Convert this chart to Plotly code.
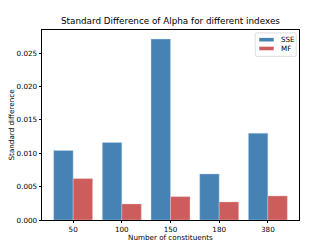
import plotly.graph_objects as go

categories = ["50", "100", "150", "180", "380"]
sse_values = [0.0104, 0.0116, 0.0271, 0.0069, 0.0130]
mf_values = [0.0062, 0.0024, 0.0035, 0.0027, 0.0036]
y_ticks = [0.0, 0.005, 0.010, 0.015, 0.020, 0.025]
y_tick_labels = ["0.000", "0.005", "0.010", "0.015", "0.020", "0.025"]
series_names = ["SSE", "MF"]
series_colors = ["#4682B4", "#CD5C5C"]

idx = list(range(len(categories)))
font = "DejaVu Sans"

W, H = 332, 247
L, R, T, B = 41.5, 33.2, 29.6, 27.2
pw, ph = W - L - R, H - T - B


def px(x):
    return (x - L) / pw


def py(y):
    return (H - B - y) / ph


fig = go.Figure()
fig.add_trace(go.Bar(x=idx, y=sse_values, name="SSE", width=0.4, offset=-0.4,
                     marker=dict(color=series_colors[0], line=dict(color="rgba(200,220,240,0.8)", width=0.5))))
fig.add_trace(go.Bar(x=idx, y=mf_values, name="MF", width=0.4, offset=0.0,
                     marker=dict(color=series_colors[1], line=dict(color="rgba(245,200,200,0.8)", width=0.5))))

ymax = max(sse_values + mf_values) * 1.05

# legend drawn manually (matplotlib style)
lx0, lx1, ly0, ly1 = 255, 296, 32.5, 56
r = 1.5
path = (f"M {px(lx0 + r)} {py(ly0)} L {px(lx1 - r)} {py(ly0)} "
        f"Q {px(lx1)} {py(ly0)} {px(lx1)} {py(ly0 + r)} L {px(lx1)} {py(ly1 - r)} "
        f"Q {px(lx1)} {py(ly1)} {px(lx1 - r)} {py(ly1)} L {px(lx0 + r)} {py(ly1)} "
        f"Q {px(lx0)} {py(ly1)} {px(lx0)} {py(ly1 - r)} L {px(lx0)} {py(ly0 + r)} "
        f"Q {px(lx0)} {py(ly0)} {px(lx0 + r)} {py(ly0)} Z")
shapes = [dict(type="path", path=path, xref="paper", yref="paper",
               fillcolor="rgba(255,255,255,0.8)", line=dict(color="#d5d5d5", width=0.8))]
annotations = []
for i, (name, col) in enumerate(zip(series_names, series_colors)):
    cy = 39.3 + i * 8.8
    shapes.append(dict(type="rect", xref="paper", yref="paper",
                       x0=px(259), x1=px(273.5), y0=py(cy - 1.8), y1=py(cy + 1.8),
                       fillcolor=col, line=dict(width=0)))
    annotations.append(dict(text=name, x=px(278.5), y=py(cy), xref="paper", yref="paper",
                            xanchor="left", yanchor="middle", showarrow=False,
                            font=dict(family=font, size=7.2)))

annotations += [
    dict(text="Standard Difference of Alpha for different indexes", x=0.5, y=1.0,
         xref="paper", yref="paper", xanchor="center", yanchor="bottom", yshift=2,
         showarrow=False, font=dict(family=font, size=8.8)),
    dict(text="Number of constituents", x=0.5, y=0.0, xref="paper", yref="paper",
         xanchor="center", yanchor="top", yshift=-11, showarrow=False,
         font=dict(family=font, size=7.2)),
    dict(text="Standard difference", x=0.0, y=0.5, xref="paper", yref="paper",
         xanchor="right", yanchor="middle", xshift=-25, textangle=-90, showarrow=False,
         font=dict(family=font, size=7.2)),
]

fig.update_layout(
    width=W, height=H,
    margin=dict(l=L, r=R, t=T, b=B, autoexpand=False),
    paper_bgcolor="white", plot_bgcolor="white",
    font=dict(family=font, size=7.2, color="black"),
    barmode="overlay",
    showlegend=False,
    xaxis=dict(range=[-0.64, 4.64], tickmode="array", tickvals=idx, ticktext=categories,
               showline=True, linecolor="black", linewidth=0.8, mirror=True,
               ticks="outside", ticklen=2.5, tickwidth=0.6, tickcolor="black",
               showgrid=False, zeroline=False, tickfont=dict(size=7.2)),
    yaxis=dict(range=[0, ymax], tickmode="array", tickvals=y_ticks, ticktext=y_tick_labels,
               showline=True, linecolor="black", linewidth=0.8, mirror=True,
               ticks="outside", ticklen=2.5, tickwidth=0.6, tickcolor="black",
               showgrid=False, zeroline=False, tickfont=dict(size=7.2)),
    shapes=shapes,
    annotations=annotations,
)

fig.write_html("out.html", config={"displayModeBar": False},
               post_script="document.body.style.margin='0';")
